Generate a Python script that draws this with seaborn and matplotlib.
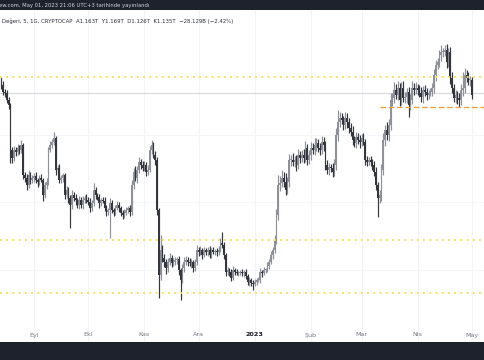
import numpy as np
import pandas as pd
import matplotlib
matplotlib.use("Agg")
import matplotlib.pyplot as plt
import seaborn as sns

# ---------------- data (billions USD, daily candles) ----------------
start_date = "2022-08-14"
end_date = "2023-05-01"
first_open = 1200

close = [
    # Aug 14-31
    1190, 1176, 1174, 1160, 1150, 1060, 1044, 1060, 1056, 1064, 1060, 1070, 1010, 1004, 990, 1010, 1000, 1004,
    # Sep
    1008, 1000, 996, 1004, 1000, 970, 990, 996, 1060, 1070, 1076, 1084, 1020, 1024, 1000, 1004, 1010, 970, 980, 964,
    950, 970, 964, 960, 950, 960, 950, 960, 964, 960,
    # Oct
    956, 944, 954, 980, 970, 966, 954, 960, 958, 944, 936, 940, 954, 940, 936, 944, 950, 944, 934, 930,
    934, 940, 944, 936, 990, 1016, 1004, 1020, 1036, 1030, 1024,
    # Nov
    1030, 1016, 1020, 1060, 1070, 1050, 1040, 940, 810, 860, 844, 836, 824, 836, 844, 834, 836, 840, 842, 820,
    800, 824, 836, 840, 836, 834, 836, 824, 836, 860,
    # Dec
    856, 860, 850, 860, 856, 860, 850, 860, 856, 858, 856, 860, 874, 870, 850, 816, 820, 816, 804, 820,
    816, 814, 814, 816, 814, 816, 808, 796, 800, 794, 792,
    # Jan
    796, 800, 800, 816, 814, 820, 820, 828, 836, 850, 860, 880, 930, 990, 994, 1004, 996, 980, 996, 1040,
    1040, 1036, 1040, 1030, 1050, 1044, 1050, 1044, 1064, 1040, 1050,
    # Feb
    1064, 1060, 1070, 1074, 1064, 1060, 1076, 1070, 1030, 1020, 1026, 1024, 1016, 1030, 1090, 1116, 1124, 1120, 1110, 1124,
    1116, 1104, 1096, 1080, 1074, 1086, 1080, 1076,
    # Mar
    1084, 1076, 1040, 1036, 1040, 1036, 1030, 1016, 990, 964, 970, 1020, 1080, 1100, 1090, 1110, 1160, 1164, 1180, 1170,
    1184, 1160, 1184, 1164, 1166, 1176, 1150, 1160, 1184, 1180, 1184,
    # Apr
    1180, 1174, 1166, 1180, 1176, 1170, 1174, 1176, 1184, 1210, 1230, 1236, 1250, 1256, 1256, 1260, 1236, 1256, 1204, 1184,
    1164, 1170, 1164, 1160, 1180, 1184, 1210, 1204, 1200, 1200,
    # May 1
    1170,
]

upper_wick = [
    6, 8, 6, 6, 5, 4, 6, 8, 6, 8, 6, 10, 4, 6, 8, 10, 6, 6,
    6, 8, 4, 6, 8, 4, 6, 8, 6, 8, 6, 12, 4, 6, 8, 6, 4, 4, 8, 6, 6, 10, 6, 8, 4, 8, 6, 8, 6, 8,
    6, 8, 6, 14, 6, 4, 6, 4, 6, 8, 6, 4, 10, 6, 4, 6, 8, 6, 4, 6, 8, 6, 4, 6, 10, 8, 12, 8, 10, 6, 8,
    8, 6, 10, 8, 10, 6, 8, 6, 4, 30, 10, 8, 6, 8, 10, 6, 8, 6, 4, 6, 4, 8, 10, 8, 6, 8, 6, 4, 6, 10,
    6, 8, 4, 6, 4, 6, 8, 4, 6, 4, 6, 8, 10, 22, 6, 4, 6, 4, 6, 8, 4, 6, 4, 4, 6, 4, 6, 4, 6, 4, 6,
    6, 4, 6, 8, 4, 6, 4, 8, 6, 8, 6, 10, 12, 20, 14, 16, 12, 18, 10, 12, 10, 14, 8, 10, 12, 8, 10, 12, 14, 8, 10,
    12, 10, 14, 10, 8, 10, 12, 10, 8, 10, 8, 6, 10, 12, 14, 24, 12, 10, 8, 12, 10, 8, 10, 12, 8, 10, 8, 10,
    8, 10, 6, 8, 6, 8, 6, 8, 10, 6, 10, 12, 14, 10, 16, 12, 14, 10, 16, 12, 14, 10, 12, 14, 10, 8, 10, 12, 14, 10, 12,
    8, 10, 12, 8, 10, 8, 6, 8, 10, 12, 10, 8, 10, 14, 8, 10, 12, 8, 10, 12, 8, 10, 8, 10, 12, 32, 14, 10, 12, 8,
    6,
]

lower_wick = [
    8, 6, 8, 6, 8, 26, 10, 6, 8, 6, 8, 6, 8, 8, 10, 6, 8, 6,
    8, 6, 10, 6, 4, 12, 6, 8, 6, 4, 6, 6, 10, 8, 6, 6, 8, 8, 6, 10, 46, 8, 6, 10, 6, 8, 6, 8, 6, 6,
    6, 8, 6, 6, 8, 6, 10, 6, 4, 6, 8, 6, 56, 6, 8, 6, 4, 8, 6, 8, 6, 4, 6, 8, 6, 8, 6, 10, 6, 8, 6,
    6, 8, 6, 4, 8, 6, 10, 10, 46, 10, 8, 10, 12, 8, 6, 8, 6, 6, 8, 10, 40, 6, 8, 6, 8, 6, 10, 8, 6, 6,
    8, 6, 8, 4, 6, 8, 6, 6, 4, 6, 8, 6, 4, 6, 8, 8, 6, 8, 6, 4, 6, 4, 6, 4, 6, 8, 6, 6, 8, 6, 12,
    4, 6, 4, 6, 8, 4, 6, 4, 6, 4, 8, 6, 8, 10, 12, 8, 10, 10, 8, 10, 12, 8, 10, 12, 8, 10, 8, 10, 8, 10, 8,
    10, 8, 10, 12, 8, 10, 8, 12, 10, 8, 10, 8, 10, 8, 10, 12, 10, 8, 10, 8, 12, 10, 8, 10, 8, 10, 8, 12,
    8, 6, 10, 8, 6, 8, 10, 8, 10, 38, 10, 12, 10, 12, 10, 12, 10, 12, 10, 8, 10, 12, 10, 8, 10, 12, 24, 10, 8, 10, 8,
    10, 8, 10, 12, 8, 10, 8, 6, 8, 10, 12, 8, 10, 12, 10, 8, 12, 10, 12, 10, 8, 10, 12, 14, 10, 12, 10, 8, 10, 12,
    8,
]

tick_dates = ["2022-09-01", "2022-10-01", "2022-11-01", "2022-12-01", "2023-01-01",
              "2023-02-01", "2023-03-01", "2023-04-01", "2023-05-01"]
tick_labels = ["Eyl", "Eki", "Kas", "Ara", "2023", "Şub", "Mar", "Nis", "May"]

yellow_levels = [1206, 880, 774]
gray_level = 1174
orange_level = 1146
orange_start = "2023-03-11"

header_top = "ew.com, May 01, 2023 21:06 UTC+3 tarihinde yayınlandı"
header_info = "Değeri, 5, 1G, CRYPTOCAP  A1.163T  Y1.169T  D1.126T  K1.135T  −28.129B (−2.42%)"

# ---------------- build ----------------
dates = pd.date_range(start_date, end_date, freq="D")
assert len(close) == len(dates) == len(upper_wick) == len(lower_wick)

df = pd.DataFrame({"date": dates, "close": close})
df["open"] = [first_open] + close[:-1]
df["top"] = df[["open", "close"]].max(axis=1)
df["bot"] = df[["open", "close"]].min(axis=1)
df["high"] = df["top"] + np.array(upper_wick)
df["low"] = df["bot"] - np.array(lower_wick)
df["up"] = df["close"] >= df["open"]

sns.set_style("white")
plt.rcParams["font.family"] = ["DejaVu Sans"]

W, H = 485, 360
fig = plt.figure(figsize=(W / 100, H / 100), dpi=100)
fig.patch.set_facecolor("white")

# axes covers y=10px .. 342px
ax = fig.add_axes([0, 18 / H, 1, 332 / H])
ax.set_facecolor("white")

up_col = "#8e9199"
dn_col = "#34363d"

x0 = pd.Timestamp(start_date)
ax.set_xlim(x0 - pd.Timedelta(days=0.77), x0 + pd.Timedelta(days=267.2))
ax.set_ylim(676, 1340)

# faint grid
for d in tick_dates:
    ax.axvline(pd.Timestamp(d), color="#f2f3f6", lw=0.8, zorder=0)
for v in [1090, 956, 820]:
    ax.axhline(v, color="#f4f5f8", lw=0.8, zorder=0)

for is_up, col in [(True, up_col), (False, dn_col)]:
    sub = df[df["up"] == is_up]
    ax.vlines(sub["date"], sub["low"], sub["high"], color=col, lw=0.85, zorder=2)
    ax.bar(sub["date"], (sub["top"] - sub["bot"]).clip(lower=2), bottom=sub["bot"],
           width=0.9, color=col, edgecolor="none", zorder=2)

ax.axhline(gray_level, color="#d6d8de", lw=0.8, zorder=1)
for v in yellow_levels:
    ax.axhline(v, color="#f2e35e", lw=1.4, linestyle=(0, (1, 2.2)), zorder=3)
ax.plot([pd.Timestamp(orange_start), x0 + pd.Timedelta(days=270)], [orange_level, orange_level],
        color="#f0a23a", lw=1.0, linestyle=(0, (4, 2)), zorder=3)

ax.set_xticks([])
ax.set_yticks([])
for s in ["top", "left", "right"]:
    ax.spines[s].set_visible(False)
ax.spines["bottom"].set_color("#a0a3ab")
ax.spines["bottom"].set_linewidth(0.8)

xt = ax.get_xaxis_transform()
for d, lab in zip(tick_dates, tick_labels):
    bold = lab == "2023"
    ax.text(pd.Timestamp(d), 7 / 332, lab, transform=xt, ha="center", va="center",
            fontsize=4.6, color="#131722" if bold else "#787b86",
            fontweight="bold" if bold else "normal")

# dark bars
fig.patches.append(plt.Rectangle((0, 1 - 10 / H), 1, 10 / H, transform=fig.transFigure,
                                 facecolor="#1e222d", edgecolor="none", zorder=5))
fig.patches.append(plt.Rectangle((0, 0), 1, 18 / H, transform=fig.transFigure,
                                 facecolor="#1e222d", edgecolor="none", zorder=5))
fig.text(-1 / W, 1 - 5 / H, header_top, fontsize=3.8, color="#d1d4dc", va="center", ha="left", zorder=6)
fig.text(2 / W, 1 - 21.5 / H, header_info, fontsize=3.85, color="#2a2e39", va="center", ha="left")

fig.savefig("out.png", dpi=100)
